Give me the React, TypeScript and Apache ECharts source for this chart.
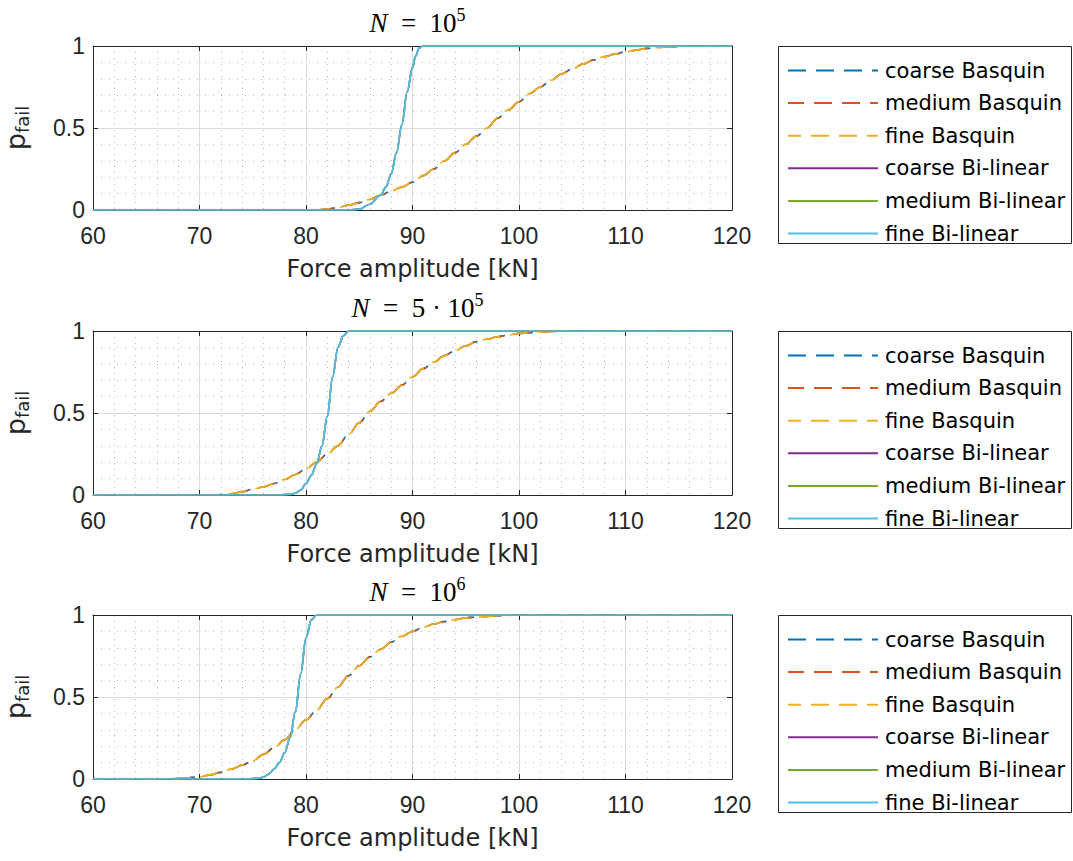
import React, { useEffect, useRef } from "react";
import * as echarts from "echarts";

// ---------- data ----------
const seriesNames = [
  "coarse Basquin",
  "medium Basquin",
  "fine Basquin",
  "coarse Bi-linear",
  "medium Bi-linear",
  "fine Bi-linear",
];
const seriesColors = ["#0072BD", "#D95319", "#EDB120", "#7E2F8E", "#77AC30", "#4DBEEE"];

const xTickLabels = [60, 70, 80, 90, 100, 110, 120];
const yTickLabels = [0, 0.5, 1];

// N = 10^5
const force1Basquin = [60, 81, 82, 83, 84, 85, 86, 87, 88, 89, 90, 91, 92, 93, 94, 95, 96, 97, 98, 99, 100, 101, 102, 103, 104, 105, 106, 107, 108, 109, 110, 111, 112, 113, 114, 115, 116, 120];
const pfail1Basquin = [0, 0, 0.005, 0.015, 0.03, 0.045, 0.065, 0.09, 0.115, 0.14, 0.17, 0.21, 0.25, 0.3, 0.35, 0.4, 0.45, 0.5, 0.56, 0.61, 0.66, 0.71, 0.75, 0.79, 0.83, 0.86, 0.89, 0.915, 0.935, 0.95, 0.965, 0.975, 0.985, 0.99, 0.995, 0.998, 1, 1];
const force1Bilinear = [60, 84, 85, 86, 87, 87.5, 88, 88.5, 89, 89.5, 90, 90.3, 90.6, 91, 120];
const pfail1Bilinear = [0, 0, 0.005, 0.035, 0.09, 0.14, 0.22, 0.35, 0.52, 0.72, 0.87, 0.94, 0.985, 1, 1];

// N = 5·10^5
const force2Basquin = [60, 71, 72, 73, 74, 75, 76, 77, 78, 79, 80, 81, 82, 83, 84, 85, 86, 87, 88, 89, 90, 91, 92, 93, 94, 95, 96, 97, 98, 99, 100, 101, 102, 104, 120];
const pfail2Basquin = [0, 0, 0.002, 0.008, 0.02, 0.035, 0.05, 0.07, 0.095, 0.125, 0.16, 0.2, 0.25, 0.3, 0.37, 0.44, 0.51, 0.57, 0.62, 0.67, 0.72, 0.77, 0.81, 0.85, 0.88, 0.91, 0.935, 0.95, 0.965, 0.975, 0.985, 0.99, 0.995, 1, 1];
const force2Bilinear = [60, 77.5, 78.5, 79, 79.5, 80, 80.5, 81, 81.5, 82, 82.5, 83, 83.5, 84, 120];
const pfail2Bilinear = [0, 0, 0.004, 0.012, 0.03, 0.07, 0.12, 0.19, 0.3, 0.48, 0.72, 0.9, 0.97, 1, 1];

// N = 10^6
const force3Basquin = [60, 66, 68, 70, 71, 72, 73, 74, 75, 76, 77, 78, 79, 80, 81, 82, 83, 84, 85, 86, 87, 88, 89, 90, 91, 92, 93, 94, 95, 96, 98, 100, 120];
const pfail3Basquin = [0, 0, 0.003, 0.012, 0.025, 0.04, 0.06, 0.085, 0.11, 0.15, 0.19, 0.24, 0.3, 0.36, 0.42, 0.49, 0.56, 0.63, 0.69, 0.745, 0.79, 0.835, 0.87, 0.9, 0.925, 0.945, 0.96, 0.972, 0.982, 0.988, 0.996, 1, 1];
const force3Bilinear = [60, 74.5, 75.5, 76, 76.5, 77, 77.5, 78, 78.5, 79, 79.5, 80, 80.5, 81, 120];
const pfail3Bilinear = [0, 0, 0.004, 0.012, 0.03, 0.06, 0.1, 0.16, 0.25, 0.41, 0.64, 0.86, 0.97, 1, 1];

const panelTitles = [
  "{n|N}{t|  =  10}{s|5}",
  "{n|N}{t|  =  5 · 10}{s|5}",
  "{n|N}{t|  =  10}{s|6}",
];

const panels = [
  { basquin: [force1Basquin, pfail1Basquin], bilinear: [force1Bilinear, pfail1Bilinear] },
  { basquin: [force2Basquin, pfail2Basquin], bilinear: [force2Bilinear, pfail2Bilinear] },
  { basquin: [force3Basquin, pfail3Basquin], bilinear: [force3Bilinear, pfail3Bilinear] },
];

// ---------- layout ----------
const plotLeft = 93;
const plotWidth = 639;
const panelTops = [46, 331, 615];
const panelHeight = 164;
const legendLeft = 778;
const legendWidth = 293;
const legendHeight = 197;

const TXT = "#262626";
const SANS = "Liberation Sans, Arial, sans-serif";
const WIDE = "DejaVu Sans, sans-serif";
const SERIF = "Liberation Serif, Times New Roman, serif";

function pairs(xs: number[], ys: number[]) {
  return xs.map((x, i) => [x, ys[i]]);
}

export default function App() {
  const ref = useRef<HTMLDivElement>(null);

  useEffect(() => {
    if (!ref.current) return;
    const chart = echarts.init(ref.current, undefined, { renderer: "svg" });

    const grid: any[] = [];
    const xAxis: any[] = [];
    const yAxis: any[] = [];
    const series: any[] = [];
    const title: any[] = [];
    const legend: any[] = [];
    const graphic: any[] = [];

    panelTops.forEach((top, i) => {
      grid.push({
        left: plotLeft,
        top,
        width: plotWidth,
        height: panelHeight,
        containLabel: false,
        outerBoundsMode: "none",
      });

      xAxis.push({
        gridIndex: i,
        type: "value",
        min: xTickLabels[0],
        max: xTickLabels[xTickLabels.length - 1],
        interval: 10,
        position: "bottom",
        axisLine: { show: true, onZero: false, lineStyle: { color: TXT, width: 1 } },
        axisTick: { show: true, inside: true, length: 5, lineStyle: { color: TXT } },
        axisLabel: { show: true, fontSize: 23, color: TXT, fontFamily: SANS, margin: 14 },
        splitLine: { show: true, lineStyle: { color: "#dcdcdc", width: 1 } },
        minorTick: { show: false, splitNumber: 5 },
        minorSplitLine: { show: true, lineStyle: { color: "#b8b8b8", width: 1, type: [1, 5] } },
        name: "Force amplitude [kN]",
        nameLocation: "middle",
        nameGap: 47,
        nameTextStyle: { fontSize: 24, color: TXT, fontFamily: WIDE },
      });
      xAxis.push({
        gridIndex: i,
        type: "value",
        min: xTickLabels[0],
        max: xTickLabels[xTickLabels.length - 1],
        interval: 10,
        position: "top",
        axisLine: { show: true, onZero: false, lineStyle: { color: TXT, width: 1 } },
        axisTick: { show: true, inside: true, length: 5, lineStyle: { color: TXT } },
        axisLabel: { show: false },
        splitLine: { show: false },
      });

      yAxis.push({
        gridIndex: i,
        type: "value",
        min: yTickLabels[0],
        max: yTickLabels[yTickLabels.length - 1],
        interval: 0.5,
        position: "left",
        axisLine: { show: true, onZero: false, lineStyle: { color: TXT, width: 1 } },
        axisTick: { show: true, inside: true, length: 5, lineStyle: { color: TXT } },
        axisLabel: { show: true, fontSize: 23, color: TXT, fontFamily: SANS, margin: 8 },
        splitLine: { show: true, lineStyle: { color: "#dcdcdc", width: 1 } },
        minorTick: { show: false, splitNumber: 5 },
        minorSplitLine: { show: true, lineStyle: { color: "#b8b8b8", width: 1, type: [1, 7] } },
        name: "{p|p}{s|fail}",
        nameLocation: "middle",
        nameGap: 62,
        nameRotate: 90,
        nameTextStyle: {
          color: TXT,
          fontFamily: WIDE,
          rich: {
            p: { fontSize: 27, color: TXT, fontFamily: WIDE },
            s: { fontSize: 18, color: TXT, fontFamily: WIDE, padding: [14, 0, 0, 0] },
          },
        },
      });
      yAxis.push({
        gridIndex: i,
        type: "value",
        min: yTickLabels[0],
        max: yTickLabels[yTickLabels.length - 1],
        interval: 0.5,
        position: "right",
        axisLine: { show: true, onZero: false, lineStyle: { color: TXT, width: 1 } },
        axisTick: { show: true, inside: true, length: 5, lineStyle: { color: TXT } },
        axisLabel: { show: false },
        splitLine: { show: false },
      });

      title.push({
        text: panelTitles[i],
        left: plotLeft + plotWidth / 2,
        textAlign: "center",
        top: top - 45,
        textStyle: {
          fontWeight: "normal",
          rich: {
            n: { fontSize: 27, fontStyle: "italic", fontWeight: "normal", fontFamily: SERIF, color: "#000", lineHeight: 32 },
            t: { fontSize: 27, fontWeight: "normal", fontFamily: SERIF, color: "#000", lineHeight: 32 },
            s: { fontSize: 18, fontWeight: "normal", fontFamily: SERIF, color: "#000", padding: [0, 0, 15, 0] },
          },
        },
      });

      const p = panels[i];
      seriesNames.forEach((name, k) => {
        const isBasquin = k < 3;
        const [xs, ys] = isBasquin ? p.basquin : p.bilinear;
        series.push({
          type: "line",
          name,
          xAxisIndex: i * 2,
          yAxisIndex: i * 2,
          data: pairs(xs as number[], ys as number[]),
          showSymbol: false,
          symbol: "none",
          smooth: 0.35,
          smoothMonotone: "x",
          color: seriesColors[k],
          lineStyle: {
            color: seriesColors[k],
            width: 1.7,
            type: isBasquin ? [18, 10] : "solid",
            dashOffset: isBasquin ? [0, 2, 5][k] : 0,
          },
          emphasis: { disabled: true },
          z: 2 + k,
        });
      });

      graphic.push({
        type: "rect",
        left: legendLeft,
        top,
        shape: { x: 0, y: 0, width: legendWidth, height: legendHeight },
        style: { fill: "#fff", stroke: TXT, lineWidth: 1 },
        z: 0,
        silent: true,
      });

      legend.push({
        data: seriesNames,
        orient: "vertical",
        left: 787,
        top: top + 14,
        padding: 0,
        itemWidth: 90,
        itemHeight: 14,
        itemGap: 11.6,
        selectedMode: false,
        itemStyle: { opacity: 0 },
        textStyle: { fontSize: 21, color: "#000", fontFamily: WIDE, lineHeight: 20, padding: [0, 0, 0, 2] },
        z: 10,
      });
    });

    chart.setOption({
      animation: false,
      backgroundColor: "#fff",
      title,
      grid,
      xAxis,
      yAxis,
      legend,
      series,
      graphic: { elements: graphic },
    });

    return () => chart.dispose();
  }, []);

  return (
    <div
      ref={ref}
      style={{ position: "fixed", left: 0, top: 0, width: 1073, height: 861, background: "#fff" }}
    />
  );
}
